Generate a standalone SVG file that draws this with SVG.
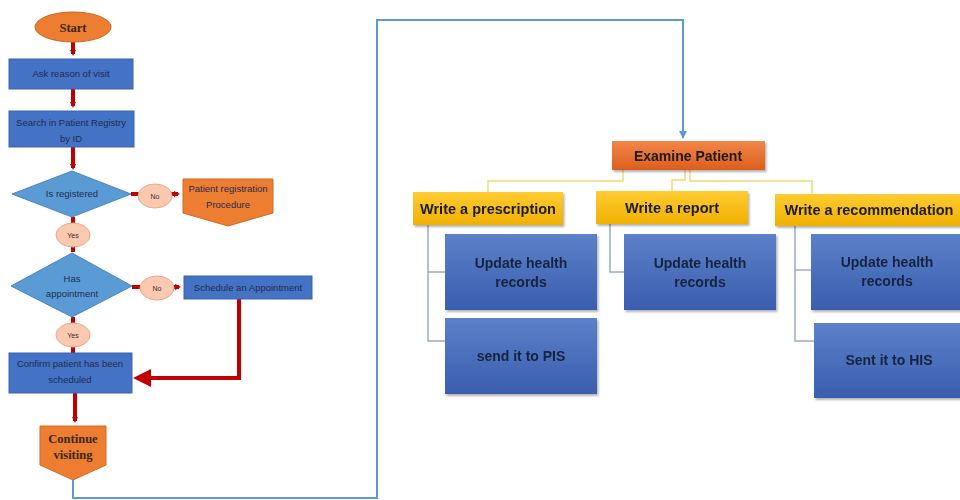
<svg xmlns="http://www.w3.org/2000/svg" width="960" height="500" viewBox="0 0 960 500">
  <style>
    .proc { fill: #4472c4; stroke: #3a64b0; stroke-width: 1; }
    .dec { fill: #5b9bd5; stroke: #4a86bf; stroke-width: 1; }
    .lbl { fill: #fbc9b0; stroke: #e9a98a; stroke-width: 1; }
    .term { fill: #ed7d31; stroke: #c8641f; stroke-width: 1; }
    .ltxt { font-family: "Liberation Sans", Arial, sans-serif; font-size: 9.5px; fill: #1f2d50; text-anchor: middle; }
    .stxt { font-family: "Liberation Sans", Arial, sans-serif; font-size: 7px; fill: #3a2a2a; text-anchor: middle; }
    .serif { font-family: "Liberation Serif", "Times New Roman", serif; font-weight: bold; font-size: 12.5px; fill: #3a2718; text-anchor: middle; }
    .red { stroke: #c00000; stroke-width: 4; fill: none; }
    .loop { stroke: #5b9bd5; stroke-width: 2; fill: none; }
    .yl { stroke: #f3d777; stroke-width: 1.5; fill: none; }
    .bl { stroke: #9aabc9; stroke-width: 1.5; fill: none; }
    .btxt { font-family: "Liberation Sans", Arial, sans-serif; font-weight: bold; fill: #1a1a1a; text-anchor: middle; }
    .ctxt { font-family: "Liberation Sans", Arial, sans-serif; font-weight: bold; font-size: 14px; fill: #16243f; text-anchor: middle; }
  </style>
  <defs>
    <marker id="redHead" markerWidth="6" markerHeight="6" refX="4" refY="3" orient="auto" markerUnits="userSpaceOnUse" viewBox="0 0 6 6">
      <path d="M0,0 L6,3 L0,6 Z" fill="#c00000"/>
    </marker>
    <marker id="blueHead" markerWidth="8" markerHeight="8" refX="7" refY="4" orient="auto" markerUnits="userSpaceOnUse" viewBox="0 0 8 8">
      <path d="M0,0 L8,4 L0,8 Z" fill="#5b9bd5"/>
    </marker>
    <linearGradient id="gOrange" x1="0" y1="0" x2="0" y2="1">
      <stop offset="0" stop-color="#f2864a"/>
      <stop offset="1" stop-color="#dc5e1c"/>
    </linearGradient>
    <linearGradient id="gYellow" x1="0" y1="0" x2="0" y2="1">
      <stop offset="0" stop-color="#ffcc33"/>
      <stop offset="1" stop-color="#f0b000"/>
    </linearGradient>
    <linearGradient id="gBlue" x1="0" y1="0" x2="0" y2="1">
      <stop offset="0" stop-color="#5c80c9"/>
      <stop offset="1" stop-color="#3a5eae"/>
    </linearGradient>
    <filter id="shadow" x="-10%" y="-10%" width="125%" height="130%">
      <feDropShadow dx="1.5" dy="2" stdDeviation="1.2" flood-color="#000" flood-opacity="0.3"/>
    </filter>
  </defs>

  <!-- connectors -->
  <g id="connectors">
    <!-- left flowchart -->
    <line class="red" x1="73" y1="42" x2="73" y2="54" marker-end="url(#redHead)"/>
    <line class="red" x1="73" y1="89" x2="73" y2="106" marker-end="url(#redHead)"/>
    <line class="red" x1="73" y1="147" x2="73" y2="168" marker-end="url(#redHead)"/>
    <line class="red" x1="131" y1="194" x2="139" y2="194"/>
    <line class="red" x1="171" y1="194" x2="178" y2="194" marker-end="url(#redHead)"/>
    <line class="red" x1="73" y1="217" x2="73" y2="224"/>
    <line class="red" x1="73" y1="246" x2="73" y2="252"/>
    <line class="red" x1="132" y1="287" x2="140" y2="287"/>
    <line class="red" x1="174" y1="287" x2="179" y2="287" marker-end="url(#redHead)"/>
    <line class="red" x1="73" y1="317" x2="73" y2="323"/>
    <line class="red" x1="73" y1="347" x2="73" y2="353"/>
    <polyline class="red" points="239,299 239,378 150,378"/>
    <path d="M133,378 L151,369 L151,387 Z" fill="#c00000"/>
    <line class="red" x1="75" y1="393" x2="75" y2="421" marker-end="url(#redHead)"/>
    <!-- loop back to examination -->
    <polyline class="loop" points="73,480 73,498 377,498 377,20 683,20 683,138" marker-end="url(#blueHead)"/>
    <!-- examination tree -->
    <polyline class="yl" points="623,170 623,181 488,181 488,192"/>
    <polyline class="yl" points="685,170 685,180 672,180 672,191"/>
    <polyline class="yl" points="690,170 690,181 812,181 812,194"/>
    <polyline class="bl" points="428,225 428,341 445,341"/>
    <line class="bl" x1="428" y1="272" x2="445" y2="272"/>
    <polyline class="bl" points="610,224 610,272 624,272"/>
    <polyline class="bl" points="795,226 795,341 814,341"/>
    <line class="bl" x1="795" y1="270" x2="811" y2="270"/>
  </g>

  <!-- left flowchart nodes -->
  <g id="start">
    <ellipse class="term" cx="73" cy="27" rx="38" ry="15"/>
    <text class="serif" x="73" y="32" font-size="13">Start</text>
  </g>
  <g id="ask-reason">
    <rect class="proc" x="9" y="59" width="124" height="30"/>
    <text class="ltxt" x="71" y="77">Ask reason of visit</text>
  </g>
  <g id="search-registry">
    <rect class="proc" x="9" y="111" width="125" height="36"/>
    <text class="ltxt" x="71" y="126">Search in Patient Registry</text>
    <text class="ltxt" x="71" y="142">by ID</text>
  </g>
  <g id="is-registered">
    <polygon class="dec" points="12,194 72,171 131,194 72,217"/>
    <text class="ltxt" x="72" y="197" font-size="8.5">Is registered</text>
  </g>
  <g id="no-1">
    <ellipse class="lbl" cx="155" cy="196" rx="17" ry="12"/>
    <text class="stxt" x="155" y="199">No</text>
  </g>
  <g id="registration-procedure">
    <polygon points="183,179 273,179 273,213 228,226 183,213" fill="#ed7d31" stroke="#d36a22"/>
    <text class="ltxt" x="228" y="192" fill="#2a1a10">Patient registration</text>
    <text class="ltxt" x="228" y="208" fill="#2a1a10">Procedure</text>
  </g>
  <g id="yes-1">
    <ellipse class="lbl" cx="73" cy="235" rx="17" ry="12"/>
    <text class="stxt" x="73" y="238">Yes</text>
  </g>
  <g id="has-appointment">
    <polygon class="dec" points="11,286 72,253 132,286 72,317"/>
    <text class="ltxt" x="72" y="282" font-size="8.5">Has</text>
    <text class="ltxt" x="72" y="297" font-size="8.5">appointment</text>
  </g>
  <g id="no-2">
    <ellipse class="lbl" cx="157" cy="288" rx="17" ry="12"/>
    <text class="stxt" x="157" y="291">No</text>
  </g>
  <g id="schedule-appointment">
    <rect class="proc" x="184" y="276" width="128" height="23"/>
    <text class="ltxt" x="248" y="291">Schedule an Appointment</text>
  </g>
  <g id="yes-2">
    <ellipse class="lbl" cx="73" cy="335" rx="17" ry="12"/>
    <text class="stxt" x="73" y="338">Yes</text>
  </g>
  <g id="confirm-scheduled">
    <rect class="proc" x="9" y="353" width="123" height="40"/>
    <text class="ltxt" x="70" y="367">Confirm patient has been</text>
    <text class="ltxt" x="70" y="383">scheduled</text>
  </g>
  <g id="continue-visiting">
    <polygon points="40,426 106,426 106,465 73,480 40,465" fill="#ed7d31" stroke="#d36a22"/>
    <text class="serif" x="73" y="443">Continue</text>
    <text class="serif" x="73" y="459">visiting</text>
  </g>

  <!-- examination tree nodes -->
  <g id="examine-patient" filter="url(#shadow)">
    <rect x="612" y="141" width="153" height="29" fill="url(#gOrange)"/>
    <text class="btxt" x="688" y="161" font-size="14">Examine Patient</text>
  </g>
  <g id="write-prescription" filter="url(#shadow)">
    <rect x="413" y="192" width="150" height="33" fill="url(#gYellow)"/>
    <text class="btxt" x="488" y="214" font-size="14.5">Write a prescription</text>
  </g>
  <g id="write-report" filter="url(#shadow)">
    <rect x="596" y="191" width="152" height="33" fill="url(#gYellow)"/>
    <text class="btxt" x="672" y="213" font-size="14.5">Write a report</text>
  </g>
  <g id="write-recommendation" filter="url(#shadow)">
    <rect x="775" y="194" width="190" height="32" fill="url(#gYellow)"/>
    <text class="btxt" x="869" y="215" font-size="14.5">Write a recommendation</text>
  </g>
  <g id="prescription-update" filter="url(#shadow)">
    <rect x="445" y="234" width="152" height="76" fill="url(#gBlue)"/>
    <text class="ctxt" x="521" y="268">Update health</text>
    <text class="ctxt" x="521" y="287">records</text>
  </g>
  <g id="prescription-pis" filter="url(#shadow)">
    <rect x="445" y="318" width="152" height="76" fill="url(#gBlue)"/>
    <text class="ctxt" x="521" y="361">send it to PIS</text>
  </g>
  <g id="report-update" filter="url(#shadow)">
    <rect x="624" y="234" width="152" height="76" fill="url(#gBlue)"/>
    <text class="ctxt" x="700" y="268">Update health</text>
    <text class="ctxt" x="700" y="287">records</text>
  </g>
  <g id="recommendation-update" filter="url(#shadow)">
    <rect x="811" y="234" width="155" height="76" fill="url(#gBlue)"/>
    <text class="ctxt" x="887" y="267">Update health</text>
    <text class="ctxt" x="887" y="286">records</text>
  </g>
  <g id="recommendation-his" filter="url(#shadow)">
    <rect x="814" y="323" width="152" height="75" fill="url(#gBlue)"/>
    <text class="ctxt" x="889" y="365">Sent it to HIS</text>
  </g>
</svg>
